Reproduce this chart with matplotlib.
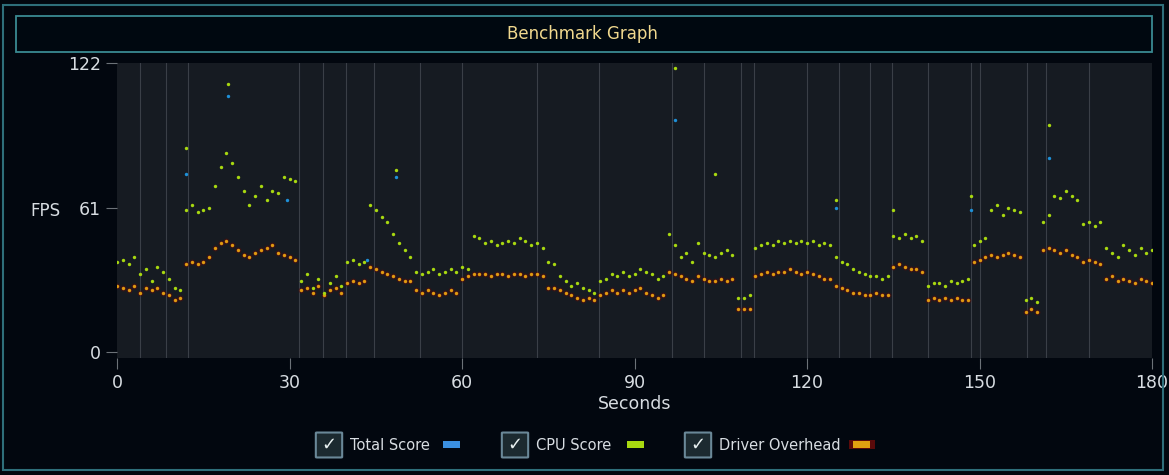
import matplotlib
matplotlib.use("Agg")
import matplotlib.pyplot as plt
from matplotlib.patches import Rectangle, FancyBboxPatch
import numpy as np

seconds = list(range(181))
cpu_score = [38,39,37,40,33,35,30,36,34,31,27,26,
             60,62,59,60,61,
             70,78,84,80,74,68,
             62,66,70,64,68,67,
             74,73,72,
             30,33,27,31,25,29,32,28,
             38,39,37,38,
             62,60,57,55,50,46,43,40,
             34,33,34,35,33,34,35,34,
             36,35,49,
             48,46,47,45,46,47,46,48,47,45,46,44,
             38,37,32,30,28,29,27,26,25,
             30,31,33,32,34,32,33,35,34,33,31,32,
             50,45,40,42,38,46,42,41,40,42,43,41,
             23,23,24,
             44,45,46,45,47,46,47,46,47,46,47,45,46,45,
             40,38,37,35,34,33,32,32,31,32,
             49,48,50,48,49,47,
             28,29,29,28,30,29,30,31,
             45,47,48,
             60,62,58,61,60,59,
             22,23,21,
             55,58,
             66,65,68,66,64,
             54,55,53,55,
             44,42,40,45,43,41,44,42,43]
driver_overhead = [28,27,26,28,25,27,26,27,25,24,22,23,
                   37,38,37,38,40,
                   44,46,47,45,43,41,
                   40,42,43,44,45,42,
                   41,40,39,
                   26,27,25,28,24,26,27,25,
                   29,30,29,30,
                   36,35,34,33,32,31,30,30,
                   26,25,26,25,24,25,26,25,
                   31,32,33,
                   33,33,32,33,33,32,33,33,32,33,33,32,
                   27,27,26,25,24,23,22,23,22,
                   24,25,26,25,26,25,26,27,25,24,23,24,
                   34,33,32,31,30,32,31,30,30,31,30,31,
                   18,18,18,
                   32,33,34,33,34,34,35,34,33,34,33,32,31,31,
                   28,27,26,25,25,24,24,25,24,24,
                   36,37,36,35,35,34,
                   22,23,22,23,22,23,22,22,
                   38,39,40,
                   41,40,41,42,41,40,
                   17,18,17,
                   43,44,
                   43,42,43,41,40,
                   38,39,38,37,
                   31,32,30,31,30,29,31,30,29]
cpu_extra_t = [12, 19.3, 48.5, 97, 104, 125, 135, 148.5, 162]
cpu_extra_v = [86, 113, 77, 120, 75, 64, 60, 66, 96]
total_t = [12, 19.3, 48.5, 97, 125, 148.5, 162, 29.5, 43.5]
total_v = [75, 108, 74, 98, 61, 60, 82, 64, 39]
segment_lines = [4, 8.5, 12.3, 31.7, 35.8, 39.8, 44.7, 52.7, 60, 73, 83.8, 96.5,
                 102, 108.5, 110.8, 120, 125.5, 131, 134.8, 141.1, 148.5, 150,
                 158.3, 161.6, 169]
x_ticks = [0, 30, 60, 90, 120, 150, 180]
y_ticks = [0, 61, 122]

W, H = 1169, 475
fig = plt.figure(figsize=(W/100, H/100), dpi=100)
fig.patch.set_facecolor("#02070f")
fig.patches.append(Rectangle((3/W, 5/H), 1160/W, 465/H, transform=fig.transFigure,
                             fill=False, ec="#2e6e7a", lw=1.5))
fig.patches.append(Rectangle((16/W, 1-52/H), 1136/W, 36/H, transform=fig.transFigure,
                             fill=True, fc="#000810", ec="#3a8a92", lw=1.3))
fig.text(582/W, 1-34/H, "Benchmark Graph", color="#f0d88e", fontsize=12,
         ha="center", va="center")

ax = fig.add_axes([117/W, 1-358/H, 1035/W, 295/H])
ax.set_facecolor("#161b22")
ax.set_xlim(0, 180)
ax.set_ylim(-2.5, 122)
for x in segment_lines:
    ax.axvline(x, color="#3a3f47", lw=0.8, zorder=0)
ax.scatter(seconds, driver_overhead, s=18, color="#5a0a0a", alpha=0.5, lw=0, zorder=1)
ax.scatter(seconds, driver_overhead, s=6, color="#e09a10", lw=0, zorder=2)
ax.scatter(total_t, total_v, s=6, color="#1e90d8", lw=0, zorder=2)
ax.scatter(seconds, cpu_score, s=6, color="#a8d810", lw=0, zorder=3)
ax.scatter(cpu_extra_t, cpu_extra_v, s=6, color="#a8d810", lw=0, zorder=3)
for s in ax.spines.values():
    s.set_visible(False)
ax.set_xticks(x_ticks)
ax.set_yticks(y_ticks)
ax.tick_params(colors="#6c7278", labelcolor="#d8dde2", labelsize=12.5, length=8)
ax.set_xlabel("Seconds", color="#d8dde2", fontsize=12.5, labelpad=2)
fig.text(45/W, 1-211/H, "FPS", color="#d8dde2", fontsize=12, ha="center", va="center")

legend = [("Total Score", "#3b8fe0", None, 317, 443),
          ("CPU Score", "#a8d810", None, 503, 627),
          ("Driver Overhead", "#e0a010", "#5a0a0a", 686, 853)]
for label, col, glow, bx, px in legend:
    fig.patches.append(FancyBboxPatch((bx/W, 1-457/H), 24/W, 24/H, transform=fig.transFigure,
                       boxstyle="round,pad=0.001", fc="#1c2a30", ec="#6a8898", lw=1.5))
    fig.text((bx+12)/W, 1-445/H, "✓", color="#e8f0f0", fontsize=13, ha="center", va="center")
    fig.text((bx+33)/W, 1-445/H, label, color="#d8dde2", fontsize=10.5, ha="left", va="center")
    if glow:
        fig.patches.append(Rectangle(((px-4)/W, 1-449/H), 26/W, 9/H, transform=fig.transFigure,
                                     fc=glow, ec="none"))
    fig.patches.append(Rectangle((px/W, 1-448/H), 17/W, 7/H, transform=fig.transFigure,
                                 fc=col, ec="none"))

fig.savefig("out.png", dpi=100, facecolor=fig.get_facecolor())
